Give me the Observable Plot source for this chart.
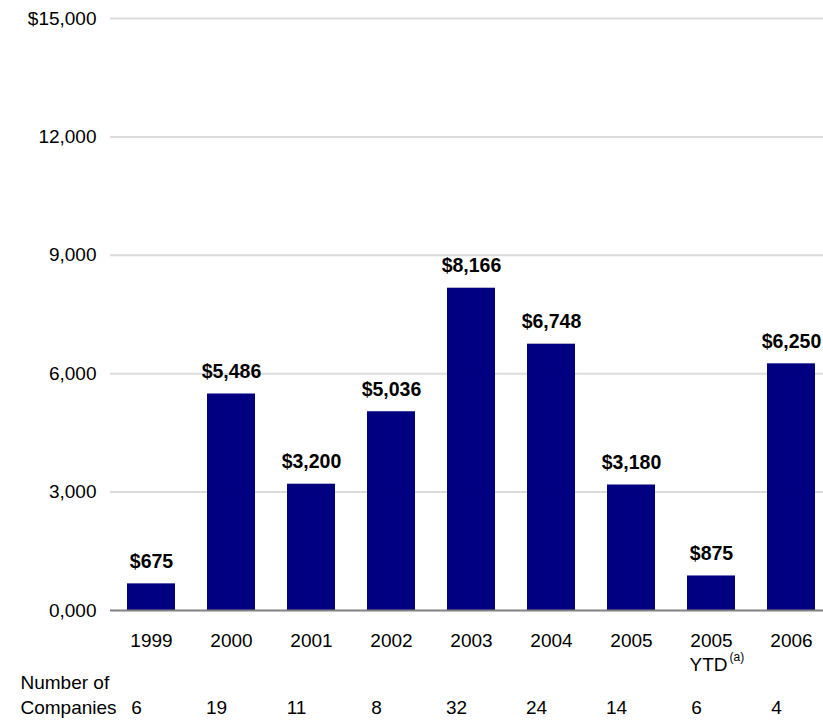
<!DOCTYPE html>
<html>
<head>
<meta charset="utf-8">
<script src="https://cdn.jsdelivr.net/npm/d3@7"></script>
<script src="https://cdn.jsdelivr.net/npm/@observablehq/plot@0.6"></script>
<style>
  html, body { margin: 0; padding: 0; background: #fff; }
</style>
</head>
<body>
<div id="chart"></div>
<script>
const categories = ["1999", "2000", "2001", "2002", "2003", "2004", "2005", "2005 YTD", "2006"];
const axisLabels = ["1999", "2000", "2001", "2002", "2003", "2004", "2005", "2005", "2006"];
const values = [675, 5486, 3200, 5036, 8166, 6748, 3180, 875, 6250];
const valueLabels = ["$675", "$5,486", "$3,200", "$5,036", "$8,166", "$6,748", "$3,180", "$875", "$6,250"];
const companies = [6, 19, 11, 8, 32, 24, 14, 6, 4];
const yTicks = [0, 3000, 6000, 9000, 12000, 15000];
const yTickLabels = ["0,000", "3,000", "6,000", "9,000", "12,000", "$15,000"];

const data = categories.map((c, i) => ({
  cat: c, value: values[i], label: valueLabels[i], n: companies[i]
}));

const font = "'Liberation Sans', Arial, Helvetica, sans-serif";
const fs = 19;

const chart = Plot.plot({
  width: 823,
  height: 720,
  marginLeft: 110,
  marginRight: 0,
  marginTop: 18,
  marginBottom: 110,
  style: { fontFamily: font, fontSize: fs + "px", color: "#000", background: "#fff", overflow: "visible" },
  x: { domain: categories, range: [111, 831], paddingInner: 0.4, paddingOuter: 0.2, axis: null, label: null },
  y: { domain: [0, 15000], axis: null, label: null },
  marks: [
    Plot.ruleY(yTicks.filter(d => d > 0), { stroke: "#dcdcdc", strokeWidth: 2 }),
    Plot.axisY(yTicks, {
      tickSize: 0, tickPadding: 14, label: null,
      tickFormat: d => yTickLabels[yTicks.indexOf(d)],
      fontSize: fs, fill: "#000"
    }),
    Plot.barY(data, { x: "cat", y: "value", fill: "#000080" }),
    Plot.ruleY([0], { stroke: "#808080", strokeWidth: 2 }),
    Plot.text(data, {
      x: "cat", y: "value", text: "label",
      lineAnchor: "bottom", dy: -16,
      fontWeight: "bold", fontSize: 19.5, fill: "#000"
    }),
    // x-axis category labels
    Plot.text(data, {
      x: "cat", text: (d, i) => axisLabels[i],
      frameAnchor: "bottom", lineAnchor: "bottom", dy: 36,
      fontSize: fs, fill: "#000"
    }),
    Plot.text(["2005 YTD"], {
      x: d => d, text: () => "YTD",
      frameAnchor: "bottom", lineAnchor: "bottom", textAnchor: "start",
      dx: -22, dy: 60, fontSize: fs, fill: "#000"
    }),
    Plot.text(["2005 YTD"], {
      x: d => d, text: () => "(a)",
      frameAnchor: "bottom", lineAnchor: "bottom", textAnchor: "start",
      dx: 18, dy: 50, fontSize: 12, fill: "#000"
    }),
    // Number of companies row
    Plot.text(["Number of\nCompanies"], {
      frameAnchor: "bottom-left", lineAnchor: "bottom", textAnchor: "start",
      dx: -90, dy: 103, lineHeight: 1.27, fontSize: fs, fill: "#000"
    }),
    Plot.text(data, {
      x: "cat", text: d => String(d.n),
      frameAnchor: "bottom", lineAnchor: "bottom",
      dx: -15, dy: 103, fontSize: fs, fill: "#000"
    })
  ]
});

document.getElementById("chart").appendChild(chart);
</script>
</body>
</html>
